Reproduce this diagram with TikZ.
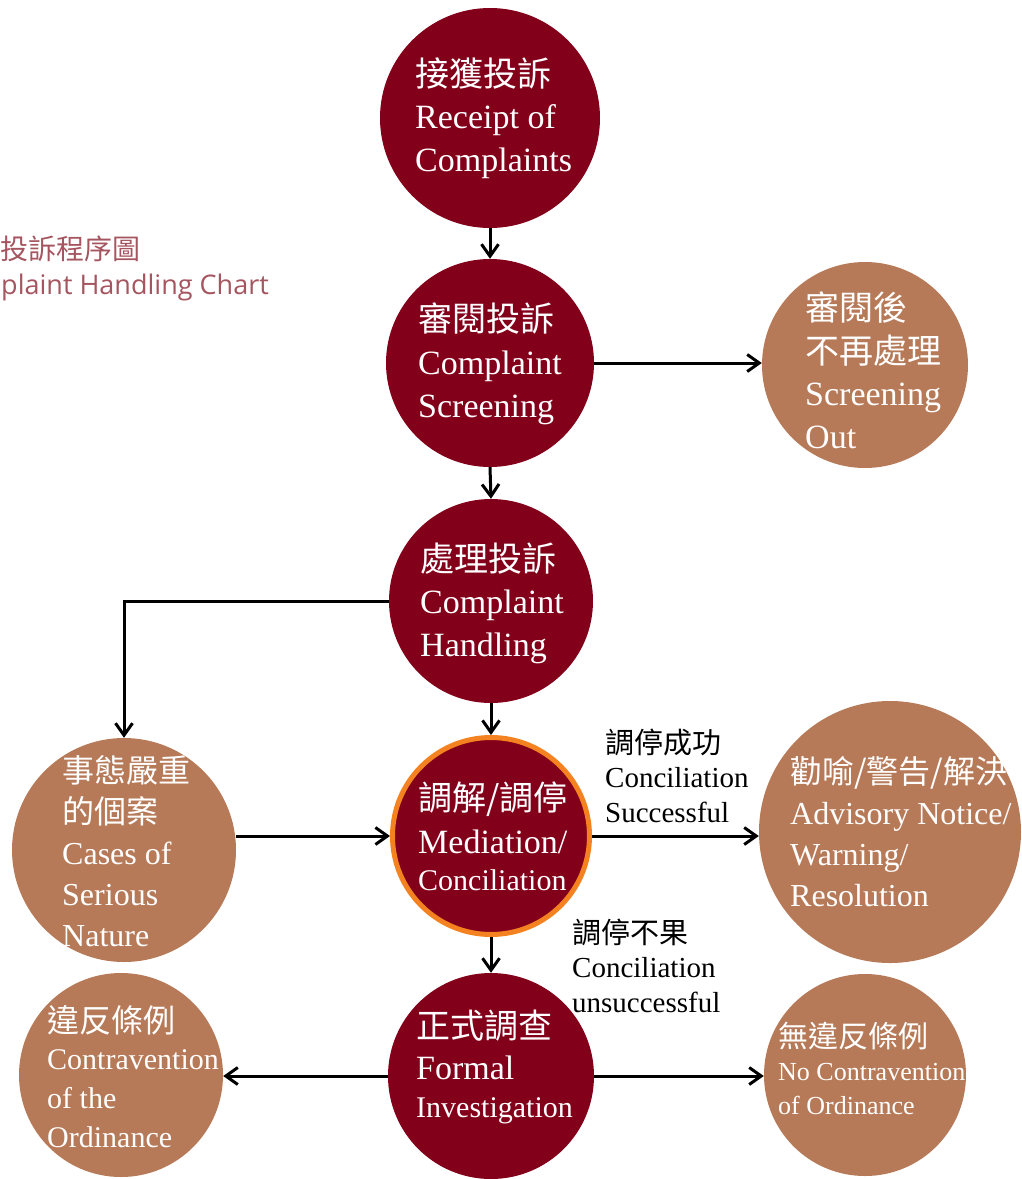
\documentclass[tikz,border=0pt]{standalone}
\usepackage{fontspec}
\setmainfont{Liberation Serif}
\newfontfamily\cjk{Noto Sans CJK TC}
\newfontfamily\titlefont{Open Sans}
\usetikzlibrary{arrows.meta}
\definecolor{maroon}{RGB}{131,0,26}
\definecolor{brownc}{RGB}{183,122,88}
\definecolor{ringc}{RGB}{245,130,32}
\definecolor{titlec}{RGB}{165,85,95}
\tikzset{
  arr/.style={draw=black, line width=3pt, -{Straight Barb[length=12pt,width=17pt]}},
  redc/.style={circle, fill=maroon, minimum size=#1, inner sep=0pt},
  brownbox/.style={circle, fill=brownc, minimum size=#1, inner sep=0pt},
  intext/.style={anchor=base west, align=left, text=white, inner sep=0pt, font=\fontsize{#1}{42.5}\selectfont},
  lbl/.style={anchor=base west, align=left, text=black, inner sep=0pt, font=\fontsize{29}{34.5}\selectfont},
}
\begin{document}
\begin{tikzpicture}[x=1pt,y=-1pt]
\useasboundingbox (0,0) rectangle (1022,1179);
% title
\node[anchor=base west, inner sep=0pt, text=titlec, font=\fontsize{28}{28}\selectfont\cjk] (t1) at (0,259) {投訴程序圖};
\node[anchor=base west, inner sep=0pt, text=titlec, font=\fontsize{27}{27}\selectfont\titlefont] (t2) at (1,294) {plaint Handling Chart};
% circles
\node[redc=220pt] (rec) at (490,118) {};
\node[redc=208pt] (scr) at (490,363) {};
\node[brownbox=206pt] (out) at (865,365) {};
\node[redc=204pt] (hand) at (491,601) {};
\node[circle, fill=maroon, draw=ringc, line width=5pt, minimum size=197pt, inner sep=0pt] (med) at (491,836) {};
\node[brownbox=224pt] (cases) at (124,850) {};
\node[brownbox=262pt] (adv) at (890,832) {};
\node[redc=206pt] (formal) at (491,1076) {};
\node[brownbox=204pt] (contr) at (121,1075) {};
\node[brownbox=202pt] (noc) at (865,1075) {};
% texts (anchored at the baseline of the last line)
\node[intext=34] (rect) at (415,171) {{\cjk 接獲投訴}\\Receipt of\\Complaints};
\node[intext=34] (scrt) at (418,417) {{\cjk 審閱投訴}\\[0.5pt]Complaint\\[0.5pt]Screening};
\node[intext=34] (outt) at (805,448) {{\cjk 審閱後}\\{\cjk 不再處理}\\Screening\\Out};
\node[intext=34] (handt) at (420,656) {{\cjk 處理投訴}\\Complaint\\Handling};
\node[intext=34] (medt) at (418,890) {{\cjk 調解/調停}\\Mediation/\\[-5.5pt]{\fontsize{30}{30}\selectfont Conciliation}};
\node[intext=32, font=\fontsize{32}{41}\selectfont] (casest) at (62,946) {{\cjk 事態嚴重}\\{\cjk 的個案}\\Cases of\\Serious\\Nature};
\node[intext=32, font=\fontsize{32}{41}\selectfont] (advt) at (790,906) {{\cjk 勸喻/警告/解決}\\Advisory Notice/\\Warning/\\Resolution};
\node[intext=34, font=\fontsize{34}{41}\selectfont] (formalt) at (416,1117) {{\cjk 正式調查}\\Formal\\[-3pt]{\fontsize{30}{30}\selectfont Investigation}};
\node[intext=30, font=\fontsize{30}{39}\selectfont] (contrt) at (47,1147) {{\cjk\fontsize{32}{32}\selectfont 違反條例}\\[-2pt]Contravention\\of the\\Ordinance};
\node[intext=26, font=\fontsize{26}{33.5}\selectfont] (noct) at (778,1114) {{\cjk\fontsize{30}{30}\selectfont 無違反條例}\\No Contravention\\of Ordinance};
% edge labels
\node[lbl] (l1) at (605,822) {{\cjk 調停成功}\\Conciliation\\Successful};
\node[lbl] (l2) at (572,1012) {{\cjk 調停不果}\\Conciliation\\unsuccessful};
% arrows
\draw[arr] (rec.south) -- (scr.north);
\draw[arr] (scr.east) -- (scr.east -| out.west);
\draw[arr] (scr.south) -- (hand.north);
\draw[arr] (hand.west) -| (cases.north);
\draw[arr] (hand.south) -- (med.north);
\draw[arr] (cases.east |- med.west) -- (med.west);
\draw[arr] (med.east) -- (med.east -| adv.west);
\draw[arr] (med.south) -- (formal.north);
\draw[arr] (formal.west) -- (formal.west -| contr.east);
\draw[arr] (formal.east) -- (formal.east -| noc.west);
\end{tikzpicture}
\end{document}
